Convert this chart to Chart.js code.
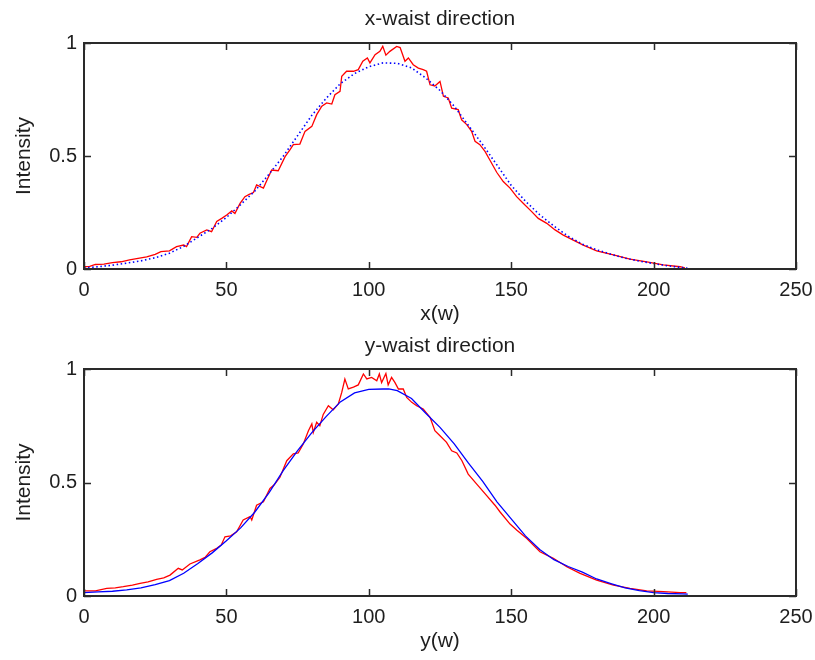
<!DOCTYPE html>
<html>
<head>
<meta charset="utf-8">
<script src="https://cdn.jsdelivr.net/npm/chart.js@4.4.1/dist/chart.umd.min.js"></script>
<style>
  body { margin: 0; background: #fff; }
  .panel { position: absolute; left: 0; width: 815px; height: 330px; }
</style>
</head>
<body>
<div class="panel" style="top:0"><canvas id="xChart" width="815" height="330"></canvas></div>
<div class="panel" style="top:330px"><canvas id="yChart" width="815" height="330"></canvas></div>
<script>
// fitted gaussian, x-waist (blue dotted)
const fitXPos = [0,5,10,15,20,25,30,35,40,45,50,55,60,65,70,75,80,85,90,95,100,105,110,115,120,125,130,135,140,145,150,155,160,165,170,175,180,185,190,195,200,205,210,212];
const fitXVal = [0.005,0.01,0.017,0.026,0.036,0.05,0.07,0.1,0.14,0.18,0.228,0.285,0.345,0.42,0.5,0.59,0.68,0.755,0.82,0.865,0.895,0.912,0.91,0.89,0.845,0.79,0.72,0.635,0.55,0.46,0.37,0.3,0.24,0.19,0.145,0.11,0.085,0.065,0.048,0.035,0.024,0.014,0.006,0.003];

// measured profile, x-waist (red)
const measXPos = [0,2,4,7,10,13,16,19,22,25,27,30,32.5,35,36,37.8,39.6,40.7,43.1,44.8,46.6,48.5,50.1,51.9,53,54.8,56.5,58,59.5,60.6,63,64.5,65.9,68.2,70.6,72.3,73.5,75.8,77.6,80,81.7,83.5,85.2,87,88.1,89.9,90.5,92.2,94.6,96.3,97.9,99.5,100.4,102.2,103.9,104.9,106,107.4,109.8,111,112.7,113.9,115.6,117.4,119.1,120.3,121.5,123.2,125,126.2,127.9,129.1,131.4,132.6,134.4,136.1,137.3,139,140.8,142.6,144.9,147.2,149.6,151.9,154.3,157.2,159.5,162.5,165.4,168.3,171.8,175.3,180,185.9,191.7,197.6,203.4,209.3,211];
const measXVal = [0.01,0.012,0.02,0.022,0.028,0.032,0.04,0.047,0.054,0.065,0.077,0.08,0.099,0.106,0.099,0.143,0.14,0.158,0.173,0.165,0.21,0.225,0.239,0.257,0.246,0.29,0.32,0.33,0.338,0.372,0.358,0.4,0.438,0.435,0.497,0.527,0.55,0.553,0.609,0.631,0.683,0.72,0.735,0.73,0.771,0.786,0.853,0.875,0.875,0.882,0.919,0.934,0.912,0.948,0.963,0.985,0.946,0.963,0.985,0.98,0.919,0.934,0.904,0.889,0.882,0.875,0.815,0.81,0.83,0.764,0.757,0.712,0.705,0.66,0.639,0.609,0.565,0.55,0.52,0.48,0.428,0.387,0.358,0.32,0.29,0.254,0.224,0.202,0.173,0.15,0.128,0.106,0.08,0.062,0.044,0.032,0.018,0.01,0.005];

// fitted gaussian, y-waist (blue solid)
const fitYPos = [0,5,10,15,20,25,30,35,40,45,50,55,60,65,70,75,80,85,90,95,100,105,107,110,115,120,125,130,135,140,145,150,155,160,165,170,175,180,185,190,195,200,205,210,212];
const fitYVal = [0.015,0.018,0.021,0.027,0.036,0.05,0.068,0.1,0.143,0.19,0.243,0.3,0.37,0.455,0.553,0.64,0.72,0.79,0.855,0.895,0.91,0.912,0.912,0.905,0.87,0.805,0.743,0.67,0.585,0.505,0.415,0.34,0.265,0.205,0.16,0.13,0.105,0.075,0.055,0.036,0.024,0.015,0.011,0.009,0.008];

// measured profile, y-waist (red)
const measYPos = [0,4,8,11,13.8,17,19.7,22.5,25.5,28,30.2,33.1,34.5,37.2,40.7,42.5,44.2,46.6,48.2,49.5,51.5,53.6,55.9,58.3,58.9,60.6,63,65.3,66.8,68.8,71.2,73.5,75.2,77,78.8,80,80.5,81.7,82.8,84,85.8,87.5,89.3,90.5,91.6,92.8,94.6,96.3,98.1,99.3,101,102.8,103.7,104.5,106,106.8,108,109.2,110.4,112.1,113.3,115.1,116.8,119.1,121.5,123.2,125,127.3,129.1,130.9,132.7,134.9,137.9,141.4,144.3,146.1,149.6,152,155.4,160.1,164.8,169.5,174.2,180,185.9,191.7,197.6,203.4,209.3,211.5];
const measYVal = [0.023,0.023,0.034,0.036,0.041,0.048,0.056,0.062,0.073,0.08,0.092,0.122,0.115,0.141,0.159,0.17,0.195,0.21,0.225,0.261,0.265,0.283,0.335,0.35,0.335,0.4,0.415,0.474,0.49,0.523,0.596,0.626,0.63,0.67,0.728,0.758,0.72,0.765,0.75,0.8,0.838,0.82,0.846,0.897,0.956,0.912,0.92,0.93,0.978,0.956,0.963,0.948,0.978,0.94,0.98,0.93,0.963,0.94,0.912,0.912,0.875,0.853,0.838,0.824,0.787,0.728,0.706,0.677,0.64,0.63,0.596,0.537,0.493,0.442,0.4,0.37,0.317,0.29,0.254,0.195,0.166,0.129,0.1,0.07,0.048,0.034,0.023,0.019,0.015,0.015];

const xTicks = [0, 50, 100, 150, 200, 250];
const yTicks = [0, 0.5, 1];

const FONT = "'Liberation Sans', Arial, sans-serif";
const INK = "#1e1e1e";

const pts = (xs, ys) => xs.map((v, i) => ({ x: v, y: ys[i] }));

// matlab style box with inward ticks on all four sides
const boxFrame = {
  id: "boxFrame",
  afterDatasetsDraw(chart) {
    const { ctx, chartArea: a, scales } = chart;
    const len = 7;
    ctx.save();
    ctx.strokeStyle = "#2a2a2a";
    ctx.lineWidth = 1.5;
    ctx.beginPath();
    scales.x.ticks.forEach((t) => {
      const px = Math.round(scales.x.getPixelForValue(t.value)) + 0.5;
      ctx.moveTo(px, a.bottom);
      ctx.lineTo(px, a.bottom - len);
      ctx.moveTo(px, a.top);
      ctx.lineTo(px, a.top + len);
    });
    scales.y.ticks.forEach((t) => {
      const py = Math.round(scales.y.getPixelForValue(t.value)) + 0.5;
      ctx.moveTo(a.left, py);
      ctx.lineTo(a.left + len, py);
      ctx.moveTo(a.right, py);
      ctx.lineTo(a.right - len, py);
    });
    ctx.stroke();
    ctx.lineWidth = 2;
    ctx.strokeRect(a.left, a.top, a.right - a.left, a.bottom - a.top);
    ctx.restore();
  },
};

function makeChart(id, opts) {
  const ctx = document.getElementById(id).getContext("2d");
  return new Chart(ctx, {
    type: "line",
    data: {
      datasets: [
        {
          data: pts(opts.fitPos, opts.fitVal),
          borderColor: "#0000ff",
          borderWidth: opts.dotted ? 1.6 : 1.3,
          borderDash: opts.dotted ? [1.5, 2.6] : [],
          pointRadius: 0,
          tension: 0,
          order: 1,
        },
        {
          data: pts(opts.measPos, opts.measVal),
          borderColor: "#ff0000",
          borderWidth: 1.3,
          pointRadius: 0,
          tension: 0,
          order: 2,
        },
      ],
    },
    options: {
      responsive: false,
      animation: false,
      events: [],
      layout: { padding: { left: 0, right: 19, top: 0, bottom: 0 } },
      plugins: {
        legend: { display: false },
        tooltip: { enabled: false },
        title: {
          display: true,
          text: opts.title,
          fullSize: false,
          color: INK,
          font: { family: FONT, size: 21, weight: "normal" },
          padding: opts.titlePad,
        },
      },
      scales: {
        x: {
          type: "linear",
          min: 0,
          max: 250,
          afterBuildTicks: (s) => { s.ticks = xTicks.map((v) => ({ value: v })); },
          afterFit: (s) => {
            s.height = opts.xHeight;
            s.paddingLeft = 0;
            s.paddingRight = 0;
          },
          grid: { display: false, drawTicks: false },
          border: { display: false },
          ticks: { color: INK, padding: 9, maxRotation: 0, font: { family: FONT, size: 20 } },
          title: {
            display: true,
            text: opts.xLabel,
            color: INK,
            font: { family: FONT, size: 21 },
            padding: { top: 0, bottom: opts.xTitlePad },
          },
        },
        y: {
          min: 0,
          max: 1,
          afterBuildTicks: (s) => { s.ticks = yTicks.map((v) => ({ value: v })); },
          afterFit: (s) => { s.width = 84; },
          grid: { display: false, drawTicks: false },
          border: { display: false },
          ticks: { color: INK, padding: 7, font: { family: FONT, size: 20 }, callback: (v) => String(v) },
          title: {
            display: true,
            text: "Intensity",
            color: INK,
            font: { family: FONT, size: 21 },
            padding: { top: 11.4, bottom: 0 },
          },
        },
      },
    },
    plugins: [boxFrame],
  });
}

makeChart("xChart", {
  title: "x-waist direction",
  xLabel: "x(w)",
  fitPos: fitXPos, fitVal: fitXVal,
  measPos: measXPos, measVal: measXVal,
  dotted: true,
  titlePad: { top: 6.2, bottom: 11.6 },
  xHeight: 61,
  xTitlePad: 2.9,
});

makeChart("yChart", {
  title: "y-waist direction",
  xLabel: "y(w)",
  fitPos: fitYPos, fitVal: fitYVal,
  measPos: measYPos, measVal: measYVal,
  dotted: false,
  titlePad: { top: 3.2, bottom: 10.6 },
  xHeight: 64,
  xTitlePad: 6,
});
</script>
</body>
</html>
